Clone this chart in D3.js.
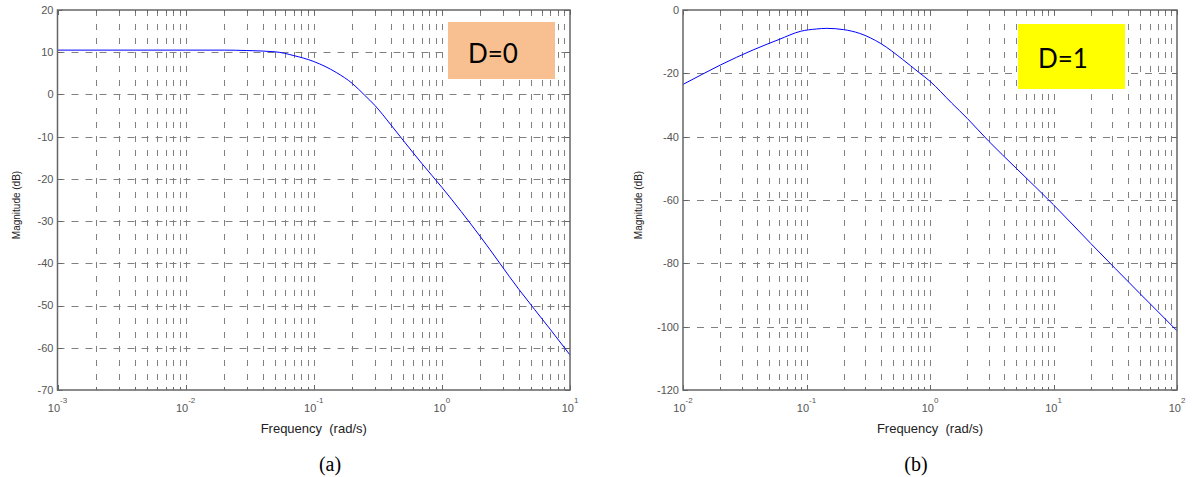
<!DOCTYPE html>
<html><head><meta charset="utf-8">
<script src="https://cdn.jsdelivr.net/npm/d3@7"></script>
<style>
html,body{margin:0;padding:0;background:#fff;}
svg text{font-family:Arial,"Liberation Sans",sans-serif;}
svg text.cap{font-family:"Liberation Serif","DejaVu Serif",serif;}
svg text.lbl{font-family:Lato,"Open Sans",sans-serif;}
</style></head>
<body>
<svg id="chart" width="1192" height="477"></svg>
<script>
// ---- Data ----
// Panel (a): D=0
const freqA = [0.001, 0.01, 0.02, 0.03, 0.05, 0.07, 0.1, 0.15, 0.2, 0.25, 0.3, 0.4, 0.5, 0.7, 1, 2, 4, 7, 10];
const magA  = [10.5, 10.5, 10.5, 10.4, 10.1, 9.2, 7.8, 5.2, 2.6, -0.2, -2.6, -7.2, -10.9, -16.4, -22.0, -33.7, -46.2, -55.6, -61.7];
// Panel (b): D=1
const freqB = [0.01, 0.014, 0.02, 0.037, 0.06, 0.09, 0.12, 0.146, 0.2, 0.27, 0.4, 0.6, 0.8, 1, 1.5, 2, 3, 5, 10, 20, 50, 100];
const magB  = [-23.5, -20.5, -17.4, -12.6, -9.3, -6.7, -6.0, -5.8, -6.2, -7.4, -10.6, -15.6, -19.5, -22.5, -29.4, -34.2, -41.5, -50.0, -61.5, -73.7, -89.5, -101.3];
// Axis domains and tick labels
const xDomainA = [1e-3, 1e1];
const yTicksA  = [20, 10, 0, -10, -20, -30, -40, -50, -60, -70];
const xDomainB = [1e-2, 1e2];
const yTicksB  = [0, -20, -40, -60, -80, -100, -120];
const labelA = "D=0", labelB = "D=1";
const captionA = "(a)", captionB = "(b)";
const xTitle = "Frequency  (rad/s)", yTitle = "Magnitude (dB)";

const svg = d3.select("#chart");

function panel(cfg) {
  const {x0, x1, y0, y1, xDomain, yTicks, freq, mag} = cfg;
  const g = svg.append("g");
  const x = d3.scaleLog().domain(xDomain).range([x0, x1]);
  const y = d3.scaleLinear().domain([d3.min(yTicks), d3.max(yTicks)]).range([y1, y0]);

  const lo = Math.round(Math.log10(xDomain[0])), hi = Math.round(Math.log10(xDomain[1]));
  const allTicks = [], majors = [];
  for (let e = lo; e <= hi; e++) {
    majors.push(Math.pow(10, e));
    if (e < hi) for (let m = 2; m <= 9; m++) allTicks.push(m * Math.pow(10, e));
  }

  // vertical grid
  g.selectAll(".vg").data(allTicks.concat(majors.slice(1, -1))).join("line")
    .attr("x1", d => Math.round(x(d)) + 0.5).attr("x2", d => Math.round(x(d)) + 0.5)
    .attr("y1", y0).attr("y2", y1)
    .attr("stroke", "#808080").attr("stroke-width", 1).attr("stroke-dasharray", "6,8");
  // horizontal grid
  g.selectAll(".hg").data(yTicks.slice(1, -1)).join("line")
    .attr("x1", x0).attr("x2", x1)
    .attr("y1", d => Math.round(y(d)) + 0.5).attr("y2", d => Math.round(y(d)) + 0.5)
    .attr("stroke", "#808080").attr("stroke-width", 1).attr("stroke-dasharray", "7,7");

  // tick marks (inward)
  const tk = g.append("g").attr("stroke", "#666").attr("stroke-width", 1);
  allTicks.forEach(d => {
    const px = Math.round(x(d)) + 0.5;
    tk.append("line").attr("x1", px).attr("x2", px).attr("y1", y1).attr("y2", y1 - 3);
    tk.append("line").attr("x1", px).attr("x2", px).attr("y1", y0).attr("y2", y0 + 3);
  });
  majors.forEach(d => {
    const px = Math.round(x(d)) + 0.5;
    tk.append("line").attr("x1", px).attr("x2", px).attr("y1", y1).attr("y2", y1 - 5);
    tk.append("line").attr("x1", px).attr("x2", px).attr("y1", y0).attr("y2", y0 + 5);
  });
  yTicks.forEach(d => {
    const py = Math.round(y(d)) + 0.5;
    tk.append("line").attr("x1", x0).attr("x2", x0 + 5).attr("y1", py).attr("y2", py);
    tk.append("line").attr("x1", x1).attr("x2", x1 - 5).attr("y1", py).attr("y2", py);
  });

  // curve
  const pts = freq.map((f, i) => [x(f), y(mag[i])]);
  g.append("path").datum(pts)
    .attr("d", d3.line().curve(d3.curveMonotoneX))
    .attr("fill", "none").attr("stroke", "#0000ff").attr("stroke-width", 1);

  // frame
  g.append("rect").attr("x", x0).attr("y", y0).attr("width", x1 - x0).attr("height", y1 - y0)
    .attr("fill", "none").attr("stroke", "#666").attr("stroke-width", 1.5);

  // y tick labels
  g.selectAll(".yl").data(yTicks).join("text")
    .attr("x", x0 - 4).attr("y", d => y(d)).attr("dy", "0.35em")
    .attr("text-anchor", "end").attr("font-size", 11).attr("fill", "#555")
    .text(d => d);
  // x tick labels with superscripts
  majors.forEach(d => {
    const e = Math.round(Math.log10(d));
    const t = g.append("text").attr("x", x(d)).attr("y", y1 + 22)
      .attr("text-anchor", "middle").attr("font-size", 11).attr("fill", "#555");
    t.append("tspan").text("10");
    t.append("tspan").attr("dy", -9).attr("font-size", 8).text(e);
  });

  // axis titles
  g.append("text").attr("x", (x0 + x1) / 2).attr("y", y1 + 43)
    .attr("text-anchor", "middle").attr("font-size", 13).attr("fill", "#222")
    .attr("xml:space", "preserve").style("white-space", "pre").text(xTitle);
  g.append("text").attr("transform", `translate(${x0 + cfg.yTitleOff},${(y0 + y1) / 2 + 5}) rotate(-90)`)
    .attr("text-anchor", "middle").attr("font-size", 10).attr("fill", "#222").text(yTitle);

  // caption
  g.append("text").attr("class", "cap").attr("x", cfg.capX).attr("y", 471).attr("text-anchor", "middle")
    .attr("font-size", 20).attr("fill", "#000").text(cfg.caption);

  // label box
  const b = cfg.box;
  g.append("rect").attr("x", b[0]).attr("y", b[1]).attr("width", b[2]).attr("height", b[3]).attr("fill", cfg.boxColor);
  g.append("text").attr("class", "lbl").attr("x", cfg.txt[0]).attr("y", cfg.txt[1])
    .attr("font-size", 26).attr("fill", "#000").text(cfg.label);
}

panel({x0: 57.5, x1: 570, y0: 10, y1: 390, xDomain: xDomainA, yTicks: yTicksA, freq: freqA, mag: magA,
  caption: captionA, capX: 330, yTitleOff: -38, box: [448, 22, 107, 57], boxColor: "#f8c090", txt: [468, 63], label: labelA});
panel({x0: 683, x1: 1177, y0: 10, y1: 390, xDomain: xDomainB, yTicks: yTicksB, freq: freqB, mag: magB,
  caption: captionB, capX: 916, yTitleOff: -41, box: [1018, 24, 107, 65], boxColor: "#ffff00", txt: [1038, 68], label: labelB});
</script>
</body></html>
